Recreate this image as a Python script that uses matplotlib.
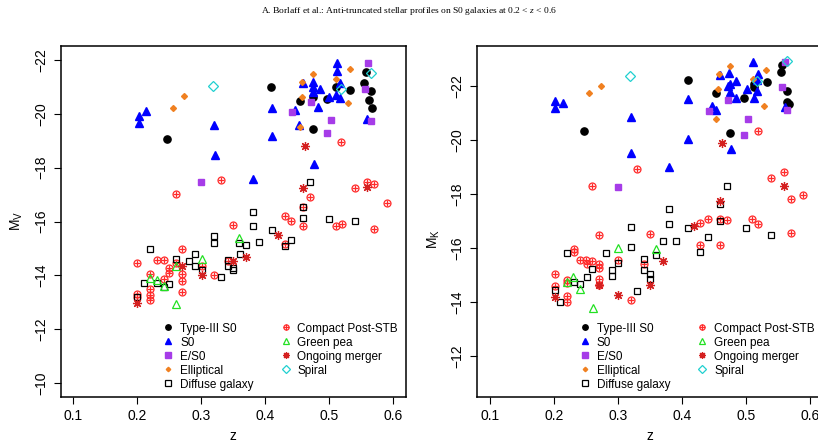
# Redraw of the M_V / M_K versus redshift figure (two panels).
import matplotlib
matplotlib.use('Agg')
import matplotlib.pyplot as plt
from matplotlib.lines import Line2D
from matplotlib.legend_handler import HandlerTuple

plt.rcParams['font.family'] = 'Liberation Sans'
plt.rcParams['mathtext.fontset'] = 'custom'
plt.rcParams['mathtext.rm'] = 'Liberation Sans'
plt.rcParams['mathtext.it'] = 'Liberation Serif:italic'

# ---- data: (z, magnitude) ----
# Left panel, M_V
type3_v = [(0.247, -19.07), (0.409, -20.99), (0.454, -20.48), (0.475, -20.64), (0.475, -19.43),
           (0.497, -20.54), (0.511, -21.00), (0.533, -20.89), (0.555, -21.14), (0.557, -21.54),
           (0.565, -20.85), (0.5625, -20.53), (0.567, -20.20)]
s0_v = [(0.214, -20.12), (0.202, -19.93), (0.202, -19.66), (0.320, -19.58), (0.321, -18.46),
        (0.380, -17.58), (0.410, -20.21), (0.410, -19.19), (0.453, -19.59), (0.476, -18.15),
        (0.559, -19.80), (0.5125, -21.88), (0.5116, -21.60), (0.459, -21.14), (0.474, -21.20),
        (0.474, -20.99), (0.485, -20.93), (0.474, -20.82), (0.517, -21.16), (0.500, -20.64),
        (0.510, -20.70), (0.517, -20.58), (0.483, -20.25), (0.447, -20.15)]
es0_v = [(0.300, -17.47), (0.561, -21.89), (0.472, -20.44), (0.442, -20.06), (0.503, -19.78),
         (0.497, -19.29), (0.556, -20.93), (0.565, -19.73)]
ell_v = [(0.273, -20.68), (0.255, -20.23), (0.532, -21.65), (0.475, -21.49), (0.458, -21.20),
         (0.457, -20.64), (0.529, -20.42), (0.510, -21.28), (0.454, -19.51)]
diffuse_v = [(0.380, -16.36), (0.380, -15.83), (0.320, -15.48), (0.320, -15.19), (0.359, -15.21),
             (0.370, -15.14), (0.390, -15.23), (0.220, -14.99), (0.260, -14.62), (0.290, -14.78),
             (0.280, -14.53), (0.290, -14.37), (0.301, -14.20), (0.210, -13.73), (0.230, -13.73),
             (0.241, -13.58), (0.250, -13.69), (0.200, -13.20), (0.330, -13.94), (0.341, -14.59),
             (0.341, -14.35), (0.350, -14.28), (0.350, -14.22), (0.360, -14.80), (0.470, -17.46),
             (0.459, -16.56), (0.459, -16.14), (0.410, -15.68), (0.440, -15.31), (0.430, -15.11),
             (0.500, -16.11), (0.540, -16.04)]
cps_v = [(0.330, -17.54), (0.260, -17.03), (0.519, -18.96), (0.470, -16.90), (0.459, -16.56),
         (0.540, -17.25), (0.559, -17.46), (0.570, -17.40), (0.590, -16.69), (0.350, -15.88),
         (0.270, -14.99), (0.200, -14.46), (0.230, -14.58), (0.241, -14.58), (0.260, -14.45),
         (0.301, -14.35), (0.270, -14.04), (0.270, -13.79), (0.270, -13.38), (0.250, -14.27),
         (0.250, -14.10), (0.220, -14.07), (0.241, -13.88), (0.220, -13.51), (0.220, -13.26),
         (0.220, -13.09), (0.200, -13.30), (0.200, -13.21), (0.320, -14.00), (0.341, -14.55),
         (0.459, -15.85), (0.430, -16.22), (0.440, -16.01), (0.430, -15.17), (0.510, -15.85),
         (0.520, -15.92), (0.570, -15.73)]
pea_v = [(0.359, -15.38), (0.301, -14.62), (0.260, -14.37), (0.220, -13.91), (0.230, -13.85),
         (0.241, -13.62), (0.260, -12.93)]
merger_v = [(0.462, -18.81), (0.459, -17.25), (0.559, -17.27), (0.270, -14.37), (0.301, -14.00),
            (0.200, -12.99), (0.350, -14.53), (0.370, -14.68), (0.420, -15.52)]
spiral_v = [(0.318, -21.04), (0.565, -21.53), (0.518, -20.93)]

# Right panel, M_K
type3_k = [(0.247, -20.31), (0.409, -22.21), (0.454, -21.75), (0.475, -20.25), (0.497, -21.53),
           (0.512, -22.06), (0.5125, -21.94), (0.533, -22.15), (0.557, -22.77), (0.555, -22.50),
           (0.565, -21.81), (0.5636, -21.41), (0.567, -21.32)]
s0_k = [(0.2016, -21.44), (0.214, -21.35), (0.2016, -21.17), (0.320, -20.85), (0.321, -19.53),
        (0.5116, -22.89), (0.459, -22.40), (0.474, -22.46), (0.519, -22.43), (0.475, -22.06),
        (0.485, -22.16), (0.517, -22.20), (0.472, -21.98), (0.475, -21.78), (0.484, -21.53),
        (0.5125, -21.53), (0.501, -21.88), (0.517, -21.81), (0.410, -21.51), (0.447, -21.26),
        (0.454, -21.11), (0.5605, -21.20), (0.410, -20.05), (0.476, -19.68), (0.380, -19.01)]
es0_k = [(0.300, -18.27), (0.5605, -22.87), (0.472, -21.47), (0.557, -21.94), (0.442, -21.05),
         (0.565, -21.11), (0.503, -20.77), (0.497, -20.19)]
ell_k = [(0.274, -22.00), (0.255, -21.75), (0.475, -22.72), (0.532, -22.58), (0.458, -22.43),
         (0.5116, -22.25), (0.457, -21.88), (0.529, -21.26), (0.454, -20.77)]
diffuse_k = [(0.470, -18.30), (0.459, -17.64), (0.380, -17.43), (0.320, -16.78), (0.320, -16.05),
             (0.360, -15.75), (0.221, -15.83), (0.260, -15.24), (0.281, -15.83), (0.291, -15.21),
             (0.291, -14.96), (0.300, -15.45), (0.340, -15.61), (0.340, -15.21), (0.350, -15.03),
             (0.350, -14.87), (0.330, -14.43), (0.201, -14.44), (0.210, -14.00), (0.231, -14.74),
             (0.241, -14.66), (0.251, -14.93), (0.380, -16.88), (0.410, -16.76), (0.459, -17.00),
             (0.500, -16.74), (0.540, -16.50), (0.440, -16.42), (0.429, -15.85), (0.390, -16.27),
             (0.370, -16.25)]
cps_k = [(0.330, -18.91), (0.260, -18.30), (0.519, -20.33), (0.540, -18.61), (0.559, -18.81),
         (0.570, -17.83), (0.590, -17.95), (0.270, -16.48), (0.350, -16.51), (0.231, -15.98),
         (0.231, -15.85), (0.241, -15.56), (0.250, -15.56), (0.251, -15.43), (0.260, -15.52),
         (0.270, -15.40), (0.270, -15.27), (0.300, -15.58), (0.340, -15.40), (0.320, -14.10),
         (0.201, -15.06), (0.201, -14.59), (0.221, -14.25), (0.221, -14.00), (0.221, -14.84),
         (0.221, -14.72), (0.270, -14.87), (0.270, -14.62), (0.429, -16.94), (0.440, -17.06),
         (0.459, -17.06), (0.470, -17.04), (0.510, -17.06), (0.519, -16.91), (0.570, -16.57),
         (0.429, -16.11), (0.459, -16.13)]
pea_k = [(0.300, -16.01), (0.360, -15.98), (0.230, -14.94), (0.241, -14.50), (0.261, -13.79),
         (0.221, -14.76)]
merger_k = [(0.462, -19.87), (0.459, -17.74), (0.559, -18.30), (0.350, -14.62), (0.300, -14.26),
            (0.201, -14.20), (0.270, -14.62), (0.419, -16.81), (0.370, -15.54)]
spiral_k = [(0.319, -22.37), (0.565, -22.93), (0.517, -22.19)]

labels = ['Type-III S0', 'S0', 'E/S0', 'Elliptical', 'Diffuse galaxy',
          'Compact Post-STB', 'Green pea', 'Ongoing merger', 'Spiral']

RED = '#ff2a2a'
# marker styles, one list per class (CPS and merger are two markers stacked, like R pch 10 / 8)
styles = {
    'Type-III S0': [dict(marker='o', ms=5.2, mfc='black', mec='black')],
    'S0': [dict(marker='^', ms=5.8, mfc='#0000ff', mec='#0000ff')],
    'E/S0': [dict(marker='s', ms=5.0, mfc='#a63ce8', mec='#a63ce8')],
    'Elliptical': [dict(marker='D', ms=3.0, mfc='#f08020', mec='#f08020')],
    'Diffuse galaxy': [dict(marker='s', ms=5.0, mfc='none', mec='black', mew=0.9)],
    'Compact Post-STB': [dict(marker='o', ms=5.0, mfc='none', mec=RED, mew=0.9),
                         dict(marker='+', ms=5.0, mec=RED, mew=0.9)],
    'Green pea': [dict(marker='^', ms=6.0, mfc='none', mec='#22e022', mew=0.9)],
    'Ongoing merger': [dict(marker=(8, 2, 0), ms=6.5, mec='#d42020', mew=0.9)],
    'Spiral': [dict(marker='D', ms=5.0, mfc='none', mec='#20d0d0', mew=0.9)],
}

left_data = [type3_v, s0_v, es0_v, ell_v, diffuse_v, cps_v, pea_v, merger_v, spiral_v]
right_data = [type3_k, s0_k, es0_k, ell_k, diffuse_k, cps_k, pea_k, merger_k, spiral_k]
draw_order = ['Compact Post-STB', 'Diffuse galaxy', 'Green pea', 'Ongoing merger',
              'Type-III S0', 'S0', 'E/S0', 'Elliptical', 'Spiral']


def draw_panel(ax, data, ylim, yticks, ylabel, label_y=0.5):
    by_label = dict(zip(labels, data))
    for lab in draw_order:
        pts = by_label[lab]
        zs = [p[0] for p in pts]
        mags = [p[1] for p in pts]
        for st in styles[lab]:
            ax.plot(zs, mags, ls='none', **st)
    ax.set_xlim(0.08, 0.62)
    ax.set_ylim(*ylim)
    ax.set_xticks([0.1, 0.2, 0.3, 0.4, 0.5, 0.6])
    ax.set_xticklabels(['0.1', '0.2', '0.3', '0.4', '0.5', '0.6'])
    ax.set_yticks(yticks)
    ax.set_yticklabels(['\u2212%d' % abs(t) for t in yticks], rotation=90, va='center')
    ax.tick_params(direction='out', length=5, width=0.8, labelsize=10, pad=4)
    for sp in ax.spines.values():
        sp.set_linewidth(1.1)
    ax.set_xlabel('z', fontsize=10, labelpad=4)
    ax.set_ylabel(ylabel, fontsize=10)
    ax.yaxis.set_label_coords(-0.103, label_y)

    handles = []
    for lab in labels:
        parts = [Line2D([], [], ls='none', **dict(st, ms=st['ms'] * 0.75)) for st in styles[lab]]
        handles.append(tuple(parts) if len(parts) > 1 else parts[0])
    ax.legend(handles, labels, ncol=2, frameon=False, loc='upper left',
              bbox_to_anchor=(0.295, 0.212), borderpad=0, borderaxespad=0,
              handlelength=1.0, handletextpad=0.5, labelspacing=0.17,
              columnspacing=2.2, fontsize=8.5,
              handler_map={tuple: HandlerTuple(ndivide=1)})


fig = plt.figure(figsize=(8.18, 4.43), dpi=100)
ax1 = fig.add_axes([60.7 / 818, 46 / 443, 345.3 / 818, 351.3 / 443])
ax2 = fig.add_axes([477.3 / 818, 46 / 443, 345.3 / 818, 351.3 / 443])

draw_panel(ax1, left_data, (-9.49, -22.53), [-22, -20, -18, -16, -14, -12, -10], r'M$_\mathrm{V}$')
draw_panel(ax2, right_data, (-10.5, -23.48), [-22, -20, -18, -16, -14, -12], r'M$_\mathrm{K}$',
           label_y=0.45)

fig.text(0.5, 1 - 11 / 443, r'A. Borlaff et al.: Anti-truncated stellar profiles on S0 galaxies at 0.2 < $\mathit{z}$ < 0.6',
         ha='center', va='center', family='Liberation Serif', fontsize=6.8)

fig.savefig('out.png', dpi=100)
